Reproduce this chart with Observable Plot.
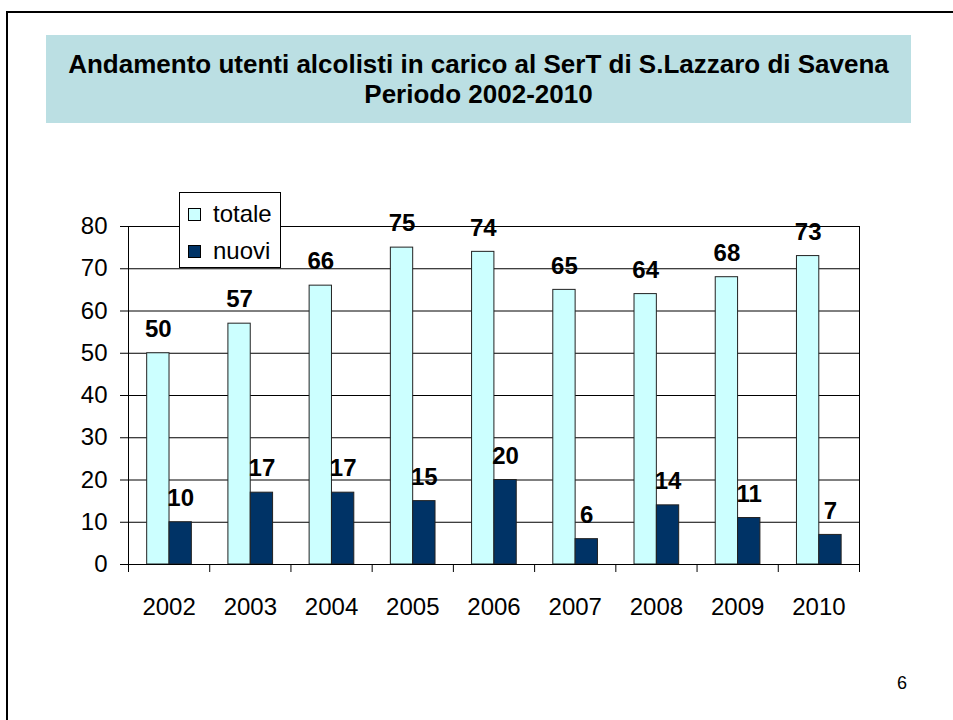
<!DOCTYPE html>
<html>
<head>
<meta charset="utf-8">
<script src="https://cdn.jsdelivr.net/npm/d3@7"></script>
<script src="https://cdn.jsdelivr.net/npm/@observablehq/plot@0.6"></script>
<style>
  html, body { margin: 0; padding: 0; background: #fff; overflow: hidden; }
  #slide { position: relative; width: 953px; height: 720px; overflow: hidden; font-family: "Liberation Sans", Arial, sans-serif; color: #000; }
  #border { position: absolute; left: 6px; top: 11px; width: 2000px; height: 2000px; border: 2px solid #000; }
  #title { position: absolute; left: 46px; top: 35px; width: 865px; height: 88px; background: #BBDFE3;
           display: flex; flex-direction: column; justify-content: center; align-items: center;
           font-weight: bold; font-size: 26px; line-height: 30px; text-align: center; }
  #chart { position: absolute; left: 0; top: 150px; }
  #legend { position: absolute; left: 179px; top: 192px; width: 100px; height: 74px; background: #fff; border: 1px solid #000; z-index: 2; }
  .lg-item { position: absolute; left: 0; font-size: 24px; line-height: 24px; }
  .lg-sw { position: absolute; left: 8px; width: 11px; height: 11px; border: 1px solid #000; }
  .lg-tx { position: absolute; left: 33px; white-space: nowrap; }
  #pagenum { position: absolute; left: 897px; top: 673px; font-size: 18px; }
</style>
</head>
<body>
<div id="slide">
  <div id="border"></div>
  <div id="title"></div>
  <div id="chart"></div>
  <div id="legend"></div>
  <div id="pagenum">6</div>
</div>
<script>
// ---- data ----
const titleLines = ["Andamento utenti alcolisti in carico al SerT di S.Lazzaro di Savena", "Periodo 2002-2010"];
const years = ["2002", "2003", "2004", "2005", "2006", "2007", "2008", "2009", "2010"];
const totale = [50, 57, 66, 75, 74, 65, 64, 68, 73];
const nuovi = [10, 17, 17, 15, 20, 6, 14, 11, 7];
const yTicks = [0, 10, 20, 30, 40, 50, 60, 70, 80];
const seriesNames = ["totale", "nuovi"];
const seriesColors = ["#CCFFFF", "#003366"];
const pageNumber = "6";

// ---- title ----
const t = document.getElementById("title");
titleLines.forEach(s => { const d = document.createElement("div"); d.textContent = s; t.appendChild(d); });
document.getElementById("pagenum").textContent = pageNumber;

// ---- legend ----
const lg = document.getElementById("legend");
seriesNames.forEach((name, k) => {
  const sw = document.createElement("div");
  sw.className = "lg-sw";
  sw.style.top = (15 + k * 37) + "px";
  sw.style.background = seriesColors[k];
  lg.appendChild(sw);
  const tx = document.createElement("div");
  tx.className = "lg-item lg-tx";
  tx.style.top = (9 + k * 37) + "px";
  tx.textContent = name;
  lg.appendChild(tx);
});

// ---- chart ----
const rows = years.map((year, i) => ({ i, year, totale: totale[i], nuovi: nuovi[i] }));
// bar layout within each category slot (fractions of the slot)
const b0 = 0.23, b1 = 0.505, b2 = 0.78;

const chart = Plot.plot({
  width: 953,
  height: 500,
  marginLeft: 128,
  marginRight: 94,
  marginTop: 76,
  marginBottom: 86,
  x: { domain: [0, years.length], axis: null, label: null },
  y: { domain: [0, 80], axis: null, label: null },
  style: { fontFamily: "'Liberation Sans', Arial, sans-serif", color: "#000", background: "transparent", overflow: "visible" },
  marks: [
    Plot.gridY(yTicks, { stroke: "#000", strokeOpacity: 1 }),
    Plot.ruleX([0, years.length], { stroke: "#000" }),
    Plot.axisY({ ticks: yTicks, tickSize: 8, tickPadding: 13, fontSize: 24, tickFormat: d => String(d), label: null }),
    Plot.axisX({ ticks: d3.range(years.length + 1), tickSize: 8, tickFormat: () => "", label: null }),
    Plot.axisX({ ticks: years.map((_, i) => i + 0.5), tickSize: 0, tickPadding: 33, fontSize: 24,
                 tickFormat: d => years[Math.floor(d)], label: null }),
    Plot.rectY(rows, { x1: d => d.i + b0, x2: d => d.i + b1, y: "totale", fill: seriesColors[0], stroke: "#222", strokeWidth: 1 }),
    Plot.rectY(rows, { x1: d => d.i + b1, x2: d => d.i + b2, y: "nuovi", fill: seriesColors[1], stroke: "#222", strokeWidth: 1 }),
    Plot.ruleY([0], { stroke: "#000" }),
    Plot.text(rows, { x: d => d.i + (b0 + b1) / 2, y: "totale", text: d => String(d.totale), dy: -24,
                      fontSize: 24, fontWeight: "bold", fill: "#000" }),
    Plot.text(rows, { x: d => d.i + (b1 + b2) / 2, y: "nuovi", text: d => String(d.nuovi), dy: -24,
                      fontSize: 24, fontWeight: "bold", fill: "#000" })
  ]
});
document.getElementById("chart").appendChild(chart);
</script>
</body>
</html>
